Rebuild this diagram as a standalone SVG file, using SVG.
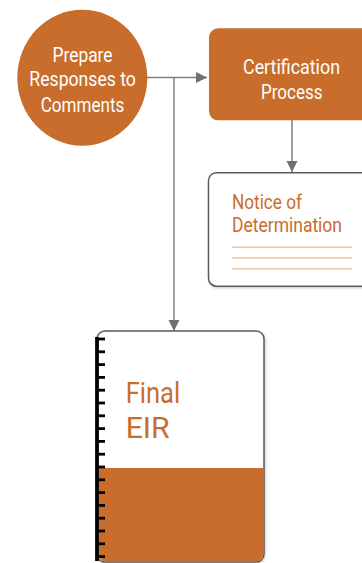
<svg xmlns="http://www.w3.org/2000/svg" width="362" height="563" viewBox="0 0 362 563">
<style>
.lbl{font-family:Roboto,"Liberation Sans",sans-serif;font-weight:400}
.w{fill:#ffffff}
.o{fill:#C96D2C}
.conn{stroke:#808080;stroke-width:1.5;fill:none}
.doc{fill:#ffffff;stroke:#5a5a5a;stroke-width:1.5}
.rule{stroke:#EDC3A4;stroke-width:1.6}
.tick{stroke:#000;stroke-width:2.8}
</style>
<defs>
<marker id="ah" markerWidth="12" markerHeight="12" refX="11" refY="6" orient="auto" markerUnits="userSpaceOnUse">
<path d="M0,0.5 L11,6 L0,11.5 Z" fill="#707070"/>
</marker>
<filter id="sh" x="-10%" y="-10%" width="130%" height="130%">
<feDropShadow dx="1" dy="1.5" stdDeviation="1.2" flood-color="#000" flood-opacity="0.18"/>
</filter>
</defs>

<g id="connectors">
<line class="conn" x1="147" y1="77.5" x2="207" y2="77.5" marker-end="url(#ah)"/>
<line class="conn" x1="174" y1="77.5" x2="174" y2="331" marker-end="url(#ah)"/>
<line class="conn" x1="292" y1="120" x2="292" y2="172" marker-end="url(#ah)"/>
</g>

<g id="prepare">
<ellipse cx="82.3" cy="77.7" rx="65" ry="68" fill="#C96D2C"/>
<text class="lbl w" font-size="21" text-anchor="middle" x="82.5" y="61.7" textLength="60" lengthAdjust="spacingAndGlyphs">Prepare</text>
<text class="lbl w" font-size="21" text-anchor="middle" x="82.6" y="86.3" textLength="106.5" lengthAdjust="spacingAndGlyphs">Responses to</text>
<text class="lbl w" font-size="21" text-anchor="middle" x="82.5" y="111.5" textLength="83.5" lengthAdjust="spacingAndGlyphs">Comments</text>
</g>

<g id="certification">
<rect x="209" y="28.3" width="180" height="92" rx="9" fill="#C96D2C"/>
<text class="lbl w" font-size="20" text-anchor="middle" x="291.5" y="74.3" textLength="97" lengthAdjust="spacingAndGlyphs">Certification</text>
<text class="lbl w" font-size="20" text-anchor="middle" x="291.8" y="99.3" textLength="61.5" lengthAdjust="spacingAndGlyphs">Process</text>
</g>

<g id="notice">
<rect class="doc" x="208.5" y="172.7" width="180" height="113.5" rx="8" filter="url(#sh)"/>
<text class="lbl o" font-size="20.5" x="232" y="209" textLength="70" lengthAdjust="spacingAndGlyphs">Notice of</text>
<text class="lbl o" font-size="20.5" x="232" y="231.7" textLength="110" lengthAdjust="spacingAndGlyphs">Determination</text>
<line class="rule" x1="232" y1="247.3" x2="352" y2="247.3"/>
<line class="rule" x1="232" y1="258" x2="352" y2="258"/>
<line class="rule" x1="232" y1="268.7" x2="352" y2="268.7"/>
</g>

<g id="final-eir">
<rect class="doc" x="97" y="331" width="167" height="231" rx="8" filter="url(#sh)"/>
<path d="M98.5,468 H263.2 V554 A7.5,7.5 0 0 1 255.7,561.5 H106 A7.5,7.5 0 0 1 98.5,554 Z" fill="#C96D2C"/>
<text class="lbl o" font-size="29" x="125.7" y="403.3" textLength="54.5" lengthAdjust="spacingAndGlyphs">Final</text>
<text class="lbl o" font-size="29" x="125.7" y="438.3" textLength="44" lengthAdjust="spacingAndGlyphs">EIR</text>
<line x1="97" y1="337" x2="97" y2="561" stroke="#000" stroke-width="3.8"/>
<g class="tick">
<line x1="97" y1="339" x2="105" y2="339"/>
<line x1="97" y1="351.8" x2="105" y2="351.8"/>
<line x1="97" y1="364.6" x2="105" y2="364.6"/>
<line x1="97" y1="377.4" x2="105" y2="377.4"/>
<line x1="97" y1="390.2" x2="105" y2="390.2"/>
<line x1="97" y1="403" x2="105" y2="403"/>
<line x1="97" y1="415.8" x2="105" y2="415.8"/>
<line x1="97" y1="428.6" x2="105" y2="428.6"/>
<line x1="97" y1="441.4" x2="105" y2="441.4"/>
<line x1="97" y1="454.2" x2="105" y2="454.2"/>
<line x1="97" y1="467" x2="105" y2="467"/>
<line x1="97" y1="479.8" x2="105" y2="479.8"/>
<line x1="97" y1="492.6" x2="105" y2="492.6"/>
<line x1="97" y1="505.4" x2="105" y2="505.4"/>
<line x1="97" y1="518.2" x2="105" y2="518.2"/>
<line x1="97" y1="531" x2="105" y2="531"/>
<line x1="97" y1="543.8" x2="105" y2="543.8"/>
<line x1="97" y1="556.6" x2="105" y2="556.6"/>
</g>
</g>
</svg>
